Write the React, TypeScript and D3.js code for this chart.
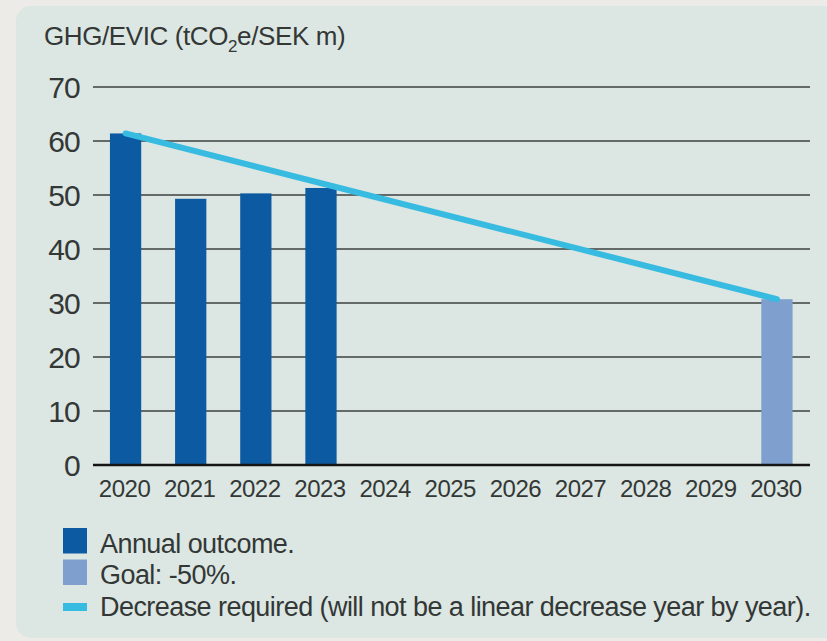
import React from 'react';
import * as d3 from 'd3';

const years = ['2020', '2021', '2022', '2023', '2024', '2025', '2026', '2027', '2028', '2029', '2030'];
const outcomeYears = ['2020', '2021', '2022', '2023'];
const outcomeValues = [61.4, 49.3, 50.3, 51.3];
const goalYears = ['2030'];
const goalValues = [30.7];
const pathYears = ['2020', '2030'];
const pathValues = [61.4, 30.7];
const yTicks = [0, 10, 20, 30, 40, 50, 60, 70];
const legendItems = [
  { label: 'Annual outcome.', kind: 'outcome' },
  { label: 'Goal: -50%.', kind: 'goal' },
  { label: 'Decrease required (will not be a linear decrease year by year).', kind: 'path' },
];

const W = 827;
const H = 641;
const COLORS = {
  page: '#ecebe7',
  panel: '#dce6e2',
  outcome: '#0c5ba2',
  goal: '#7f9fce',
  path: '#38bbe0',
  grid: '#3b403e',
  axis: '#151515',
  text: '#333836',
};
const FONT = '"Liberation Sans", Arial, Helvetica, sans-serif';

export default function App() {
  const x = d3.scaleBand<string>().domain(years).range([93, 809.5]).paddingInner(0.52).paddingOuter(0.26);
  const y = d3.scaleLinear().domain([0, 70]).range([465, 87]);
  const line = d3
    .line<number>()
    .x((_, i) => (x(pathYears[i]) as number) + x.bandwidth() / 2)
    .y((d) => y(d));

  const outcome = outcomeYears.map((yr, i) => ({ yr, v: outcomeValues[i] }));
  const goal = goalYears.map((yr, i) => ({ yr, v: goalValues[i] }));

  return (
    <svg width={W} height={H} style={{ position: 'absolute', left: 0, top: 0, display: 'block' }} fontFamily={FONT}>
      <rect x={0} y={0} width={W} height={H} fill={COLORS.page} />
      <rect x={16} y={6} width={W + 30} height={632} rx={15} fill={COLORS.panel} />

      {/* title */}
      <text x={44} y={45} fontSize={26} fill={COLORS.text} letterSpacing={-0.4}>
        GHG/EVIC (tCO
        <tspan fontSize={17} dy={7}>2</tspan>
        <tspan dy={-7}>e/SEK m)</tspan>
      </text>

      {/* gridlines */}
      {yTicks.filter((t) => t !== 0).map((t) => (
        <line key={t} x1={93} x2={810} y1={y(t)} y2={y(t)} stroke={COLORS.grid} strokeWidth={1.3} />
      ))}

      {/* y tick labels */}
      {yTicks.map((t) => (
        <text key={t} x={80} y={y(t) + 11} fontSize={30} textAnchor="end" fill={COLORS.text} letterSpacing={-0.8}>
          {t}
        </text>
      ))}

      {/* bars */}
      {outcome.map((d) => (
        <rect key={d.yr} x={x(d.yr)} y={y(d.v)} width={x.bandwidth()} height={y(0) - y(d.v)} fill={COLORS.outcome} />
      ))}
      {goal.map((d) => (
        <rect key={d.yr} x={x(d.yr)} y={y(d.v)} width={x.bandwidth()} height={y(0) - y(d.v)} fill={COLORS.goal} />
      ))}

      {/* required path */}
      <path d={line(pathValues) || ''} fill="none" stroke={COLORS.path} strokeWidth={6} strokeLinecap="round" />

      {/* zero axis */}
      <line x1={93} x2={810} y1={y(0)} y2={y(0)} stroke={COLORS.axis} strokeWidth={2.6} />

      {/* x labels */}
      {years.map((yr) => (
        <text key={yr} x={(x(yr) as number) + x.bandwidth() / 2 - 1} y={496.5} fontSize={24} textAnchor="middle" fill={COLORS.text} letterSpacing={-0.5}>
          {yr}
        </text>
      ))}

      {/* legend */}
      {legendItems.map((item, i) => {
        const top = 528 + i * 31.5;
        return (
          <g key={item.kind}>
            {item.kind === 'path' ? (
              <rect x={63} y={603} width={24} height={8} fill={COLORS.path} />
            ) : (
              <rect x={63} y={top} width={24} height={25.5} fill={item.kind === 'outcome' ? COLORS.outcome : COLORS.goal} />
            )}
            <text x={100} y={552.5 + i * 31.5} fontSize={27} fill={COLORS.text} letterSpacing={-0.56}>
              {item.label}
            </text>
          </g>
        );
      })}
    </svg>
  );
}
